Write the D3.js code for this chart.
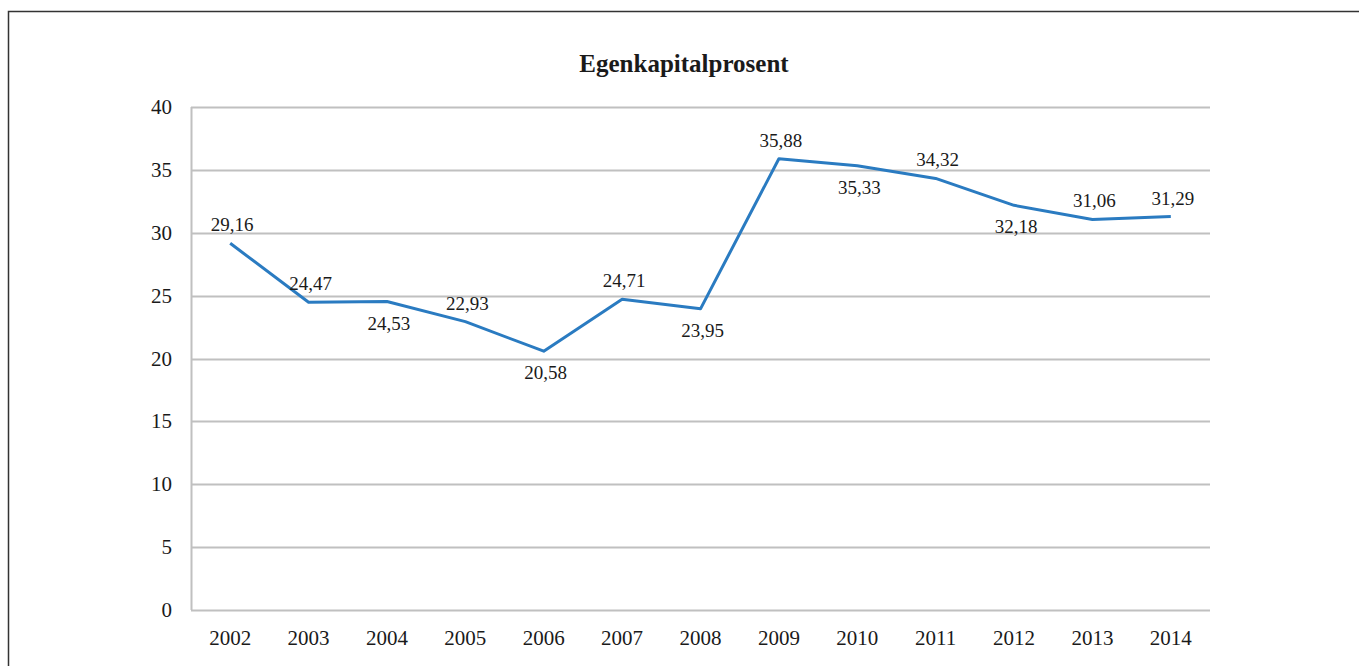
<!DOCTYPE html>
<html>
<head>
<meta charset="utf-8">
<script src="https://cdn.jsdelivr.net/npm/d3@7"></script>
<style>
  body { margin: 0; background: #fff; }
  svg text { font-family: "Liberation Serif", "Times New Roman", serif; fill: #1a1a1a; }
</style>
</head>
<body>
<div id="chart"></div>
<script>
// data
var years = ["2002","2003","2004","2005","2006","2007","2008","2009","2010","2011","2012","2013","2014"]
var values = [29.16, 24.47, 24.53, 22.93, 20.58, 24.71, 23.95, 35.88, 35.33, 34.32, 32.18, 31.06, 31.29]
// where each value label sits: 1 = above the point, -1 = below
var labelSide = [1, 1, -1, 1, -1, 1, -1, 1, -1, 1, -1, 1, 1]
var yTicks = [0, 5, 10, 15, 20, 25, 30, 35, 40]

var width = 1359, height = 666
var margin = {top: 107, right: 149, bottom: 56, left: 191}

var svg = d3.select("#chart").append("svg")
    .attr("width", width)
    .attr("height", height)

// outer frame (only top and left edges fall inside the picture)
svg.append("rect")
    .attr("x", 8.5).attr("y", 11.5)
    .attr("width", width + 20).attr("height", height + 20)
    .attr("fill", "none")
    .attr("stroke", "#333")
    .attr("stroke-width", 1.5)

var x = d3.scaleBand()
    .domain(years)
    .range([margin.left, width - margin.right])

var y = d3.scaleLinear()
    .domain([0, 40])
    .range([height - margin.bottom, margin.top])

// title
svg.append("text")
    .attr("x", 684)
    .attr("y", 72)
    .attr("text-anchor", "middle")
    .style("font-size", "25px")
    .style("font-weight", "bold")
    .text("Egenkapitalprosent")

// grid lines
svg.append("g")
    .selectAll("line")
    .data(yTicks)
    .join("line")
    .attr("x1", margin.left)
    .attr("x2", width - margin.right)
    .attr("y1", d => Math.round(y(d)) + 0.5)
    .attr("y2", d => Math.round(y(d)) + 0.5)
    .attr("stroke", "#c0c0c0")
    .attr("stroke-width", 2)

// left axis line
svg.append("line")
    .attr("x1", margin.left + 0.5).attr("x2", margin.left + 0.5)
    .attr("y1", y(40)).attr("y2", y(0))
    .attr("stroke", "#c0c0c0")
    .attr("stroke-width", 2)

// y tick labels
svg.append("g")
    .selectAll("text")
    .data(yTicks)
    .join("text")
    .attr("x", margin.left - 19)
    .attr("y", d => y(d) + 7)
    .attr("text-anchor", "end")
    .style("font-size", "21px")
    .text(d => d)

// x tick labels
svg.append("g")
    .selectAll("text")
    .data(years)
    .join("text")
    .attr("x", d => x(d) + x.bandwidth() / 2)
    .attr("y", 645)
    .attr("text-anchor", "middle")
    .style("font-size", "21px")
    .text(d => d)

var pts = years.map(function(d, i){ return {year: d, v: values[i], side: labelSide[i]} })

var line = d3.line()
    .x(d => x(d.year) + x.bandwidth() / 2)
    .y(d => y(d.v))

svg.append("path")
    .datum(pts)
    .attr("d", line)
    .attr("fill", "none")
    .attr("stroke", "#2a7bc1")
    .attr("stroke-width", 3)
    .attr("stroke-linejoin", "round")

// value labels, decimal comma
svg.append("g")
    .selectAll("text")
    .data(pts)
    .join("text")
    .attr("x", d => x(d.year) + x.bandwidth() / 2 + 2)
    .attr("y", d => d.side > 0 ? y(d.v) - 12 : y(d.v) + 28)
    .attr("text-anchor", "middle")
    .style("font-size", "19px")
    .text(d => d.v.toFixed(2).replace(".", ","))
</script>
</body>
</html>
